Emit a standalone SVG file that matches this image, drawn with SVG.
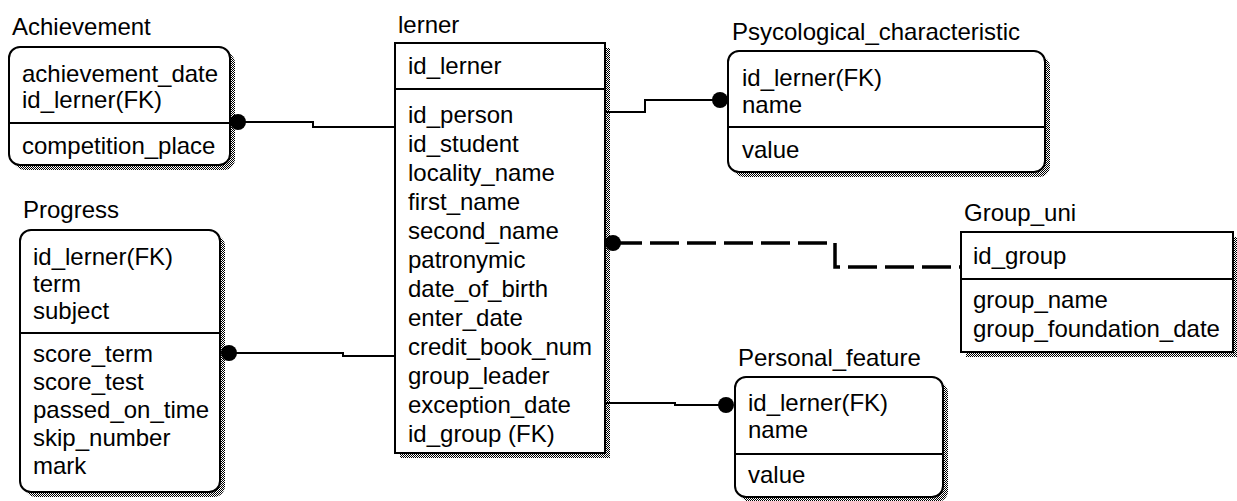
<svg xmlns="http://www.w3.org/2000/svg" width="1237" height="501" viewBox="0 0 1237 501">
<style>
text{font-family:"Liberation Sans",Arial,sans-serif;font-size:24px;fill:#000}
.box{fill:#fff;stroke:#000;stroke-width:2}
.sh{fill:url(#dots);stroke:none}
.div{stroke:#000;stroke-width:2}
.rel{fill:none;stroke:#000;stroke-width:2}
.relD{fill:none;stroke:#000;stroke-width:3.5;stroke-dasharray:29 8}
.dot{fill:#000}
</style>
<defs>
<pattern id="dots" width="2" height="2" patternUnits="userSpaceOnUse">
<rect x="0" y="0" width="1" height="1" fill="#000"/>
<rect x="1" y="1" width="1" height="1" fill="#000"/>
</pattern>
</defs>
<rect width="1237" height="501" fill="#fff"/>

<g id="connectors">
<polyline class="rel" points="238,122 313,122 313,127 395,127"/>
<circle class="dot" cx="238" cy="122" r="8"/>
<polyline class="rel" points="229,353 343,353 343,356 395,356"/>
<circle class="dot" cx="229" cy="353" r="8"/>
<polyline class="rel" points="605,112 645,112 645,100 720,100"/>
<circle class="dot" cx="720" cy="100" r="8"/>
<polyline class="rel" points="605,403 675,403 675,405 726,405"/>
<circle class="dot" cx="726" cy="405" r="8"/>
<polyline class="relD" points="613,243 835,243 835,267 961,267"/>
<circle class="dot" cx="613" cy="243" r="8"/>
</g>

<g id="achievement">
<text x="12" y="35">Achievement</text>
<rect class="sh" x="14" y="52" width="221" height="118" rx="11"/>
<rect class="box" x="9" y="47" width="221" height="118" rx="11"/>
<line class="div" x1="9" y1="123" x2="230" y2="123"/>
<text x="22" y="82">achievement_date</text>
<text x="22" y="108">id_lerner(FK)</text>
<text x="22" y="154">competition_place</text>
</g>

<g id="progress">
<text x="23" y="218">Progress</text>
<rect class="sh" x="25" y="235" width="200" height="262" rx="11"/>
<rect class="box" x="20" y="230" width="200" height="262" rx="11"/>
<line class="div" x1="20" y1="333" x2="220" y2="333"/>
<text x="33" y="265">id_lerner(FK)</text>
<text x="33" y="292">term</text>
<text x="33" y="319">subject</text>
<text x="33" y="362">score_term</text>
<text x="33" y="390">score_test</text>
<text x="33" y="418">passed_on_time</text>
<text x="33" y="446">skip_number</text>
<text x="33" y="474">mark</text>
</g>

<g id="lerner">
<text x="398" y="33">lerner</text>
<rect class="sh" x="400" y="48" width="210" height="410"/>
<rect class="box" x="395" y="43" width="210" height="410"/>
<line class="div" x1="395" y1="89" x2="605" y2="89"/>
<text x="408" y="74">id_lerner</text>
<text x="408" y="123">id_person</text>
<text x="408" y="152">id_student</text>
<text x="408" y="181">locality_name</text>
<text x="408" y="210">first_name</text>
<text x="408" y="239">second_name</text>
<text x="408" y="268">patronymic</text>
<text x="408" y="297">date_of_birth</text>
<text x="408" y="326">enter_date</text>
<text x="408" y="355">credit_book_num</text>
<text x="408" y="384">group_leader</text>
<text x="408" y="413">exception_date</text>
<text x="408" y="442">id_group (FK)</text>
</g>

<g id="psycological">
<text x="732" y="40">Psycological_characteristic</text>
<rect class="sh" x="733" y="56" width="317" height="121" rx="11"/>
<rect class="box" x="728" y="51" width="317" height="121" rx="11"/>
<line class="div" x1="728" y1="127" x2="1045" y2="127"/>
<text x="742" y="86">id_lerner(FK)</text>
<text x="742" y="113">name</text>
<text x="742" y="158">value</text>
</g>

<g id="group_uni">
<text x="964" y="221">Group_uni</text>
<rect class="sh" x="966" y="237" width="272" height="120"/>
<rect class="box" x="961" y="232" width="272" height="120"/>
<line class="div" x1="961" y1="279" x2="1233" y2="279"/>
<text x="973" y="264">id_group</text>
<text x="973" y="308">group_name</text>
<text x="973" y="337">group_foundation_date</text>
</g>

<g id="personal_feature">
<text x="738" y="366">Personal_feature</text>
<rect class="sh" x="740" y="382" width="208" height="120" rx="11"/>
<rect class="box" x="735" y="377" width="208" height="120" rx="11"/>
<line class="div" x1="735" y1="454" x2="943" y2="454"/>
<text x="748" y="411">id_lerner(FK)</text>
<text x="748" y="438">name</text>
<text x="748" y="483">value</text>
</g>
</svg>
